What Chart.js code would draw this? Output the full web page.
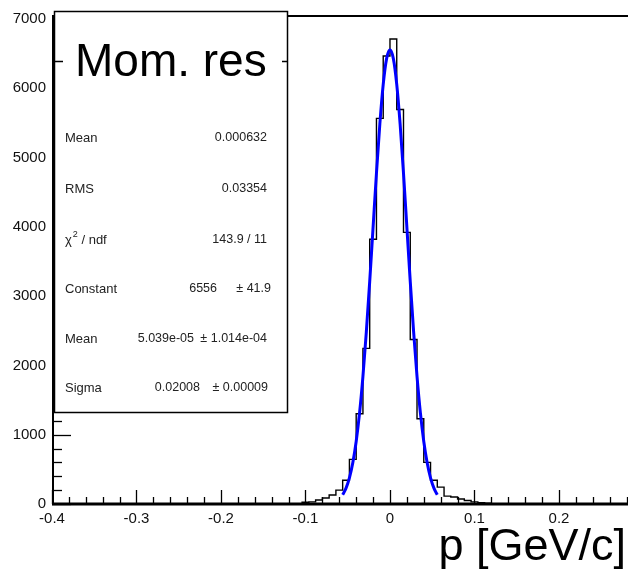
<!DOCTYPE html>
<html>
<head>
<meta charset="utf-8">
<script src="https://cdn.jsdelivr.net/npm/chart.js@4"></script>
<style>
  html, body { margin: 0; padding: 0; background: #fff; }
  #c { display: block; }
</style>
</head>
<body>
<canvas id="c" width="628" height="571"></canvas>
<script>
"use strict";

// Histogram: 0.008 wide bins, everything outside [-0.12, 0.12] is empty
const histMin = -0.4;
const histMax = 0.4;
const binWidth = 0.008;
const filledFrom = -0.12;
const counts = [
  0, 5, 25, 30, 57, 86, 129, 200, 343, 644,
  1302, 2246, 3820, 5565, 6466, 6710, 5694, 3920, 2375, 1230,
  600, 343, 243, 114, 100, 72, 50, 30, 20, 10,
];

// Gaussian fit curve as it appears over the fit range
const fitX = [
  -0.056, -0.052, -0.048, -0.044, -0.040, -0.036, -0.032, -0.028, -0.024, -0.020,
  -0.016, -0.012, -0.008, -0.004, 0.000, 0.004, 0.008, 0.012, 0.016, 0.020,
  0.024, 0.028, 0.032, 0.036, 0.040, 0.044, 0.048, 0.052, 0.056,
];
const fitY = [
  134, 229, 377, 594, 901, 1314, 1842, 2480, 3210, 3992,
  4773, 5484, 6056, 6427, 6556, 6427, 6056, 5484, 4773, 3992,
  3210, 2480, 1842, 1314, 901, 594, 377, 229, 134,
];

// Axis ticks
const xMajor = [-0.4, -0.3, -0.2, -0.1, 0, 0.1, 0.2];
const xMinorStep = 0.02;
const yMajor = [0, 1000, 2000, 3000, 4000, 5000, 6000, 7000];
const yMinorStep = 200;

// Stats box
const histTitle = "Mom. res";
const xTitle = "p [GeV/c]";
const statLabels = ["Mean", "RMS", "χ2 / ndf", "Constant", "Mean", "Sigma"];
const statValues = ["0.000632", "0.03354", "143.9 / 11", "6556", "5.039e-05", "0.02008"];
const statErrors = ["", "", "", "± 41.9", "± 1.014e-04", "± 0.00009"];

const FONT = "'Liberation Sans', Arial, Helvetica, sans-serif";

// histogram outline: one point per bin at its upper edge (step "after" = vertical then across)
const histLine = [{ x: histMin, y: 0 }];
counts.forEach((c, i) => histLine.push({ x: filledFrom + (i + 1) * binWidth, y: c }));
histLine.push({ x: histMax, y: 0 });

const fitPts = fitX.map((x, i) => ({ x, y: fitY[i] }));

// right edge of each stats value / error in the box
const valRight = [267, 267, 267, 217, 194, 200];
const errRight = [0, 0, 0, 271, 267, 268];

const rootDecor = {
  id: "rootDecor",
  afterDatasetsDraw(chart) {
    const ctx = chart.ctx;
    const xs = chart.scales.x, ys = chart.scales.y;
    const a = chart.chartArea;
    ctx.save();
    ctx.strokeStyle = "#000";

    // x ticks (inside, pointing up)
    ctx.lineWidth = 1.3;
    for (let v = histMin; v <= xs.max + 1e-9; v += xMinorStep) {
      const px = Math.round(xs.getPixelForValue(v)) + 0.5;
      const major = xMajor.some(m => Math.abs(m - v) < 1e-6);
      ctx.beginPath();
      ctx.moveTo(px, a.bottom);
      ctx.lineTo(px, a.bottom - (major ? 14 : 7));
      ctx.stroke();
    }
    // y ticks (inside, pointing right)
    for (let v = 0; v <= ys.max; v += yMinorStep) {
      const py = Math.round(ys.getPixelForValue(v)) + 0.5;
      const major = yMajor.includes(v);
      ctx.beginPath();
      ctx.moveTo(a.left, py);
      ctx.lineTo(a.left + (major ? 19 : 10), py);
      ctx.stroke();
    }

    // axis lines + frame top
    ctx.lineWidth = 2;
    ctx.beginPath();
    ctx.moveTo(a.left, a.top + 1);
    ctx.lineTo(a.right, a.top + 1);
    ctx.stroke();
    ctx.beginPath();
    ctx.moveTo(a.left + 1, a.top);
    ctx.lineTo(a.left + 1, a.bottom);
    ctx.stroke();
    ctx.lineWidth = 3;
    ctx.beginPath();
    ctx.moveTo(a.left, a.bottom);
    ctx.lineTo(a.right, a.bottom);
    ctx.stroke();

    // stats box
    const bx = 54, by = 11, bw = 233, bh = 401;
    ctx.fillStyle = "#fff";
    ctx.fillRect(bx, by, bw, bh);
    ctx.lineWidth = 1.5;
    ctx.strokeRect(bx + 0.5, by + 0.5, bw, bh);
    ctx.beginPath();
    ctx.moveTo(bx, 61.5);
    ctx.lineTo(bx + bw, 61.5);
    ctx.stroke();

    // stats lines
    const rowY = [138, 189, 240, 289, 339, 388];
    ctx.fillStyle = "#222";
    ctx.textBaseline = "middle";
    statLabels.forEach((lab, i) => {
      const y = rowY[i];
      ctx.font = "13px " + FONT;
      ctx.textAlign = "left";
      if (lab.startsWith("χ2")) {
        ctx.fillText("χ", 65, y);
        const w = ctx.measureText("χ").width;
        ctx.font = "9px " + FONT;
        ctx.fillText("2", 65 + w + 1, y - 5);
        ctx.font = "13px " + FONT;
        ctx.fillText(" / ndf", 65 + w + 6, y);
      } else {
        ctx.fillText(lab, 65, y);
      }
      ctx.font = "12.5px " + FONT;
      ctx.textAlign = "right";
      ctx.fillText(statValues[i], valRight[i], y);
      if (statErrors[i]) ctx.fillText(statErrors[i], errRight[i], y);
    });

    // title, with white backing that hides the separator
    ctx.fillStyle = "#fff";
    ctx.fillRect(63, 36, 219, 48);
    ctx.fillStyle = "#000";
    ctx.font = "46px " + FONT;
    ctx.textAlign = "left";
    ctx.textBaseline = "alphabetic";
    ctx.fillText(histTitle, 75, 76);

    // x axis title
    ctx.font = "45px " + FONT;
    ctx.textAlign = "right";
    ctx.fillText(xTitle, 626, 560);
    ctx.restore();
  },
};

new Chart(document.getElementById("c"), {
  type: "line",
  data: {
    datasets: [
      {
        label: "fit",
        data: fitPts,
        borderColor: "#0000ff",
        borderWidth: 3,
        pointRadius: 0,
        cubicInterpolationMode: "monotone",
        order: 0,
      },
      {
        label: "hist",
        data: histLine,
        borderColor: "#000",
        borderWidth: 1.4,
        pointRadius: 0,
        stepped: "after",
        order: 1,
      },
    ],
  },
  options: {
    responsive: false,
    animation: false,
    layout: { padding: { top: 11, right: 0, left: 0, bottom: 0 } },
    plugins: { legend: { display: false }, tooltip: { enabled: false } },
    scales: {
      x: {
        type: "linear",
        min: histMin,
        max: 0.2817,
        grid: { display: false, drawTicks: false },
        border: { display: false },
        afterBuildTicks: (s) => { s.ticks = xMajor.map(v => ({ value: v })); },
        afterFit: (s) => { s.height = 67; },
        ticks: {
          padding: 6,
          color: "#111",
          font: { family: FONT, size: 15 },
          maxRotation: 0,
          autoSkip: false,
          callback: (v) => (v === 0 ? "0" : Number(v).toFixed(1)),
        },
      },
      y: {
        type: "linear",
        min: 0,
        max: 7057,
        grid: { display: false, drawTicks: false },
        border: { display: false },
        afterBuildTicks: (s) => { s.ticks = yMajor.map(v => ({ value: v })); },
        afterFit: (s) => { s.width = 52; },
        ticks: {
          padding: 6,
          color: "#111",
          font: { family: FONT, size: 15 },
          callback: (v) => String(v),
        },
      },
    },
  },
  plugins: [rootDecor],
});
</script>
</body>
</html>
